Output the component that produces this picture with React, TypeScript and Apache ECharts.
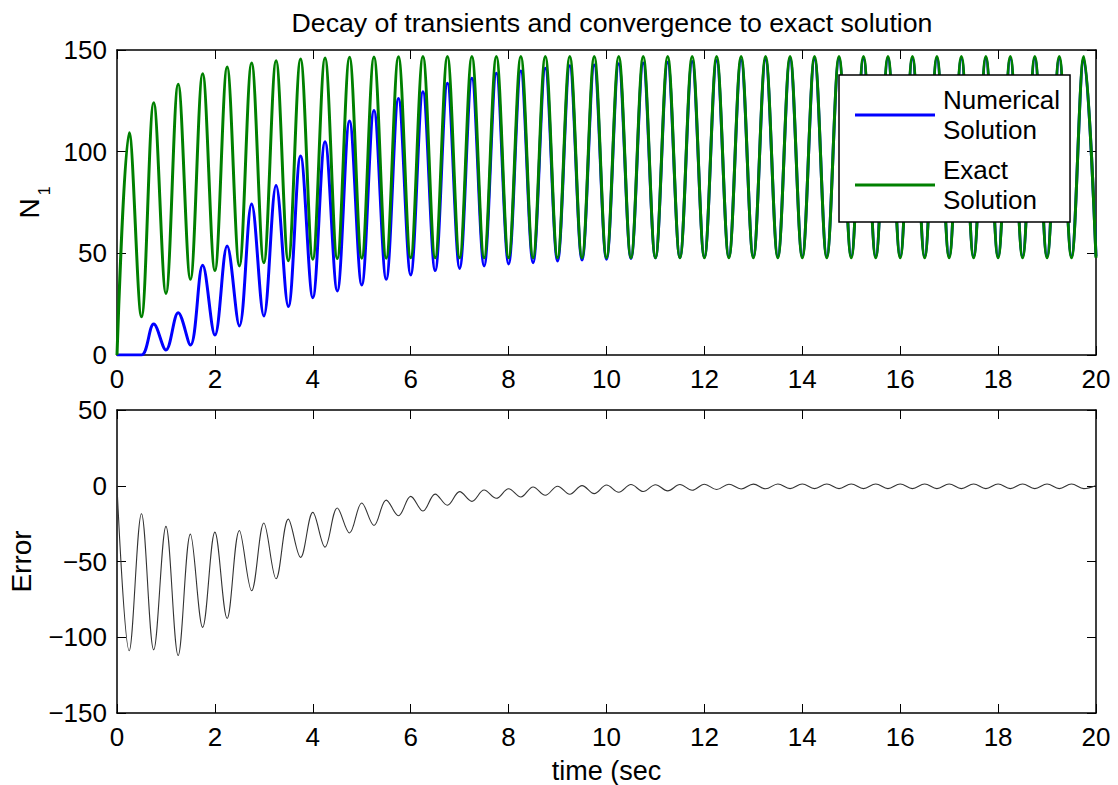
import { useEffect, useRef } from 'react';
import * as echarts from 'echarts';

// Extrema of the curves are 0.25 s apart (period 0.5 s); all curves start at 0 at t = 0.
const EXTREMUM_STEP = 0.25;
const START_VALUE = 0;

// Exact solution N1: peaks at t = 0.25, 0.75, ... 19.75 ; troughs at t = 0.5, 1.0, ... 20
const exactPeaks = [
  109.3, 124.1, 133.2, 138.3, 141.6, 143.6, 144.7, 145.6, 146.1, 146.4,
  146.6, 146.7, 146.8, 146.8, 146.8, 146.8, 146.8, 146.8, 146.8, 146.8,
  146.8, 146.8, 146.8, 146.8, 146.8, 146.8, 146.8, 146.8, 146.8, 146.8,
  146.8, 146.8, 146.8, 146.8, 146.8, 146.8, 146.8, 146.8, 146.8, 146.8,
];
const exactTroughs = [
  18.8, 30.3, 37.2, 41.5, 43.8, 45.4, 46.4, 47.1, 47.4, 47.6,
  47.6, 47.8, 47.8, 47.8, 47.8, 47.8, 47.8, 47.8, 47.8, 47.8,
  47.8, 47.8, 47.8, 47.8, 47.8, 47.8, 47.8, 47.8, 47.8, 47.8,
  47.8, 47.8, 47.8, 47.8, 47.8, 47.8, 47.8, 47.8, 47.8, 47.8,
];

// Numerical solution N1
const numericalPeaks = [
  0, 15.2, 20.8, 44.1, 53.6, 74.3, 83.3, 97.9, 104.9, 115.1,
  120.2, 126.1, 129.5, 133.6, 136.1, 138.6, 139.7, 141.0, 142.2, 142.6,
  143.2, 143.6, 144.0, 144.4, 144.8, 145.1, 145.3, 145.5, 145.6, 145.7,
  145.8, 145.8, 145.8, 145.8, 145.8, 145.8, 145.8, 145.8, 145.8, 145.8,
];
const numericalTroughs = [
  0, 2.5, 4.9, 9.8, 14.3, 19.2, 23.8, 28.2, 31.5, 34.4,
  37.2, 39.4, 41.5, 42.6, 43.8, 44.8, 45.4, 46.2, 46.7, 47.1,
  47.5, 47.8, 48.0, 48.2, 48.3, 48.4, 48.5, 48.5, 48.5, 48.5,
  48.5, 48.5, 48.5, 48.5, 48.5, 48.5, 48.5, 48.5, 48.5, 48.5,
];

// Error: minima at t = 0.25, 0.75, ... ; maxima at t = 0.5, 1.0, ...
const errorMinima = [
  -108.9, -108.3, -112.0, -93.5, -87.6, -69.3, -61.4, -47.3, -40.5, -31.2,
  -26.2, -19.8, -16.7, -12.9, -10.3, -8.3, -7.4, -6.3, -5.6, -5.2,
  -4.3, -3.8, -3.4, -3.0, -2.5, -2.1, -2.0, -1.9, -1.9, -1.9,
  -1.9, -1.9, -1.9, -1.9, -1.9, -1.9, -1.9, -1.9, -1.9, -1.9,
];
const errorMaxima = [
  -18.5, -26.8, -31.9, -30.6, -29.5, -24.6, -22.0, -17.6, -14.7, -11.4,
  -9.5, -7.0, -5.5, -3.9, -2.8, -2.0, -0.8, -0.3, 0.1, 0.5,
  0.8, 0.7, 0.8, 1.0, 1.0, 1.1, 1.2, 1.2, 1.2, 1.2,
  1.2, 1.2, 1.2, 1.2, 1.2, 1.2, 1.2, 1.2, 1.2, 0.2,
];

const TITLE = 'Decay of transients and convergence to exact solution';
const X_NAME = 'time (sec';
const ERR_NAME = 'Error';
const LEGEND_NAMES = ['Numerical Solution', 'Exact Solution'];

function buildPoints(first: number[], second: number[]): [number, number][] {
  const pts: [number, number][] = [[0, START_VALUE]];
  for (let k = 0; k < first.length; k++) {
    pts.push([(2 * k + 1) * EXTREMUM_STEP, first[k]]);
    pts.push([(2 * k + 2) * EXTREMUM_STEP, second[k]]);
  }
  return pts;
}

const FONT = '"Liberation Sans", Arial, Helvetica, sans-serif';
const minus = (v: number) => (v < 0 ? '\u2212' + Math.abs(v) : String(v));

export default function App() {
  const ref = useRef<HTMLDivElement>(null);
  useEffect(() => {
    if (!ref.current) return;
    const chart = echarts.init(ref.current, undefined, { renderer: 'svg' });
    const axisLine = { show: true, onZero: false, lineStyle: { color: '#000', width: 1.5 } };
    const tick = { show: true, inside: true, length: 9, lineStyle: { color: '#000', width: 1 } };
    const label = { show: true, color: '#000', fontSize: 26, fontFamily: FONT };
    const xBase = { type: 'value', min: 0, max: 20, interval: 2, splitLine: { show: false }, axisLine, axisTick: tick };
    chart.setOption({
      animation: false,
      textStyle: { fontFamily: FONT },
      title: {
        text: TITLE, left: 607, top: 4, textAlign: 'center',
        textStyle: { fontSize: 26.7, fontWeight: 'normal', color: '#000', fontFamily: FONT },
      },
      grid: [
        { left: 117, top: 50, width: 979, height: 305, outerBoundsMode: 'none', containLabel: false },
        { left: 117, top: 410, width: 979, height: 303, outerBoundsMode: 'none', containLabel: false },
      ],
      xAxis: [
        { ...xBase, gridIndex: 0, position: 'bottom', axisLabel: { ...label, margin: 11 } },
        { ...xBase, gridIndex: 0, position: 'top', axisLabel: { show: false } },
        {
          ...xBase, gridIndex: 1, position: 'bottom', axisLabel: { ...label, margin: 11 },
          name: X_NAME, nameLocation: 'middle', nameGap: 44,
          nameTextStyle: { fontSize: 27, color: '#000', fontFamily: FONT },
        },
        { ...xBase, gridIndex: 1, position: 'top', axisLabel: { show: false } },
      ],
      yAxis: [
        {
          type: 'value', gridIndex: 0, min: 0, max: 150, interval: 50, position: 'left',
          splitLine: { show: false }, axisLine, axisTick: tick, axisLabel: { ...label, margin: 10 },
          name: '{n|N}{s|1}', nameLocation: 'middle', nameRotate: 90, nameGap: 64,
          nameTextStyle: {
            color: '#000', fontFamily: FONT, fontSize: 28,
            rich: {
              n: { fontSize: 28, color: '#000', fontFamily: FONT },
              s: { fontSize: 16, color: '#000', fontFamily: FONT, verticalAlign: 'bottom', padding: [30, 0, 0, 3] },
            },
          },
        },
        {
          type: 'value', gridIndex: 0, min: 0, max: 150, interval: 50, position: 'right',
          splitLine: { show: false }, axisLine, axisTick: tick, axisLabel: { show: false },
        },
        {
          type: 'value', gridIndex: 1, min: -150, max: 50, interval: 50, position: 'left',
          splitLine: { show: false }, axisLine, axisTick: tick,
          axisLabel: { ...label, margin: 10, formatter: minus },
          name: ERR_NAME, nameLocation: 'middle', nameRotate: 90, nameGap: 82,
          nameTextStyle: { fontSize: 28, color: '#000', fontFamily: FONT },
        },
        {
          type: 'value', gridIndex: 1, min: -150, max: 50, interval: 50, position: 'right',
          splitLine: { show: false }, axisLine, axisTick: tick, axisLabel: { show: false },
        },
      ],
      legend: {
        data: LEGEND_NAMES,
        orient: 'vertical',
        left: 839, top: 75,
        padding: [10, 10, 7, 16],
        itemGap: 10,
        icon: 'rect',
        itemWidth: 80, itemHeight: 3,
        borderColor: '#000', borderWidth: 1.5, backgroundColor: '#fff',
        formatter: (n: string) => n.replace(' ', '\n'),
        textStyle: { fontSize: 26, lineHeight: 30, color: '#000', fontFamily: FONT, padding: [0, 0, 0, 3] },
      },
      series: [
        {
          name: LEGEND_NAMES[0], type: 'line', xAxisIndex: 0, yAxisIndex: 0,
          data: buildPoints(numericalPeaks, numericalTroughs),
          symbol: 'none', smooth: 0.36, color: '#0000ff',
          lineStyle: { color: '#0000ff', width: 3 },
        },
        {
          name: LEGEND_NAMES[1], type: 'line', xAxisIndex: 0, yAxisIndex: 0,
          data: buildPoints(exactPeaks, exactTroughs),
          symbol: 'none', smooth: 0.36, color: '#008000',
          lineStyle: { color: '#008000', width: 3 },
        },
        {
          name: 'Error', type: 'line', xAxisIndex: 2, yAxisIndex: 2,
          data: buildPoints(errorMinima, errorMaxima),
          symbol: 'none', smooth: 0.36, color: '#333333',
          lineStyle: { color: '#333333', width: 1.1 },
        },
      ],
    });
    return () => chart.dispose();
  }, []);
  return <div ref={ref} style={{ position: 'absolute', left: 0, top: 0, width: 1118, height: 785 }} />;
}
